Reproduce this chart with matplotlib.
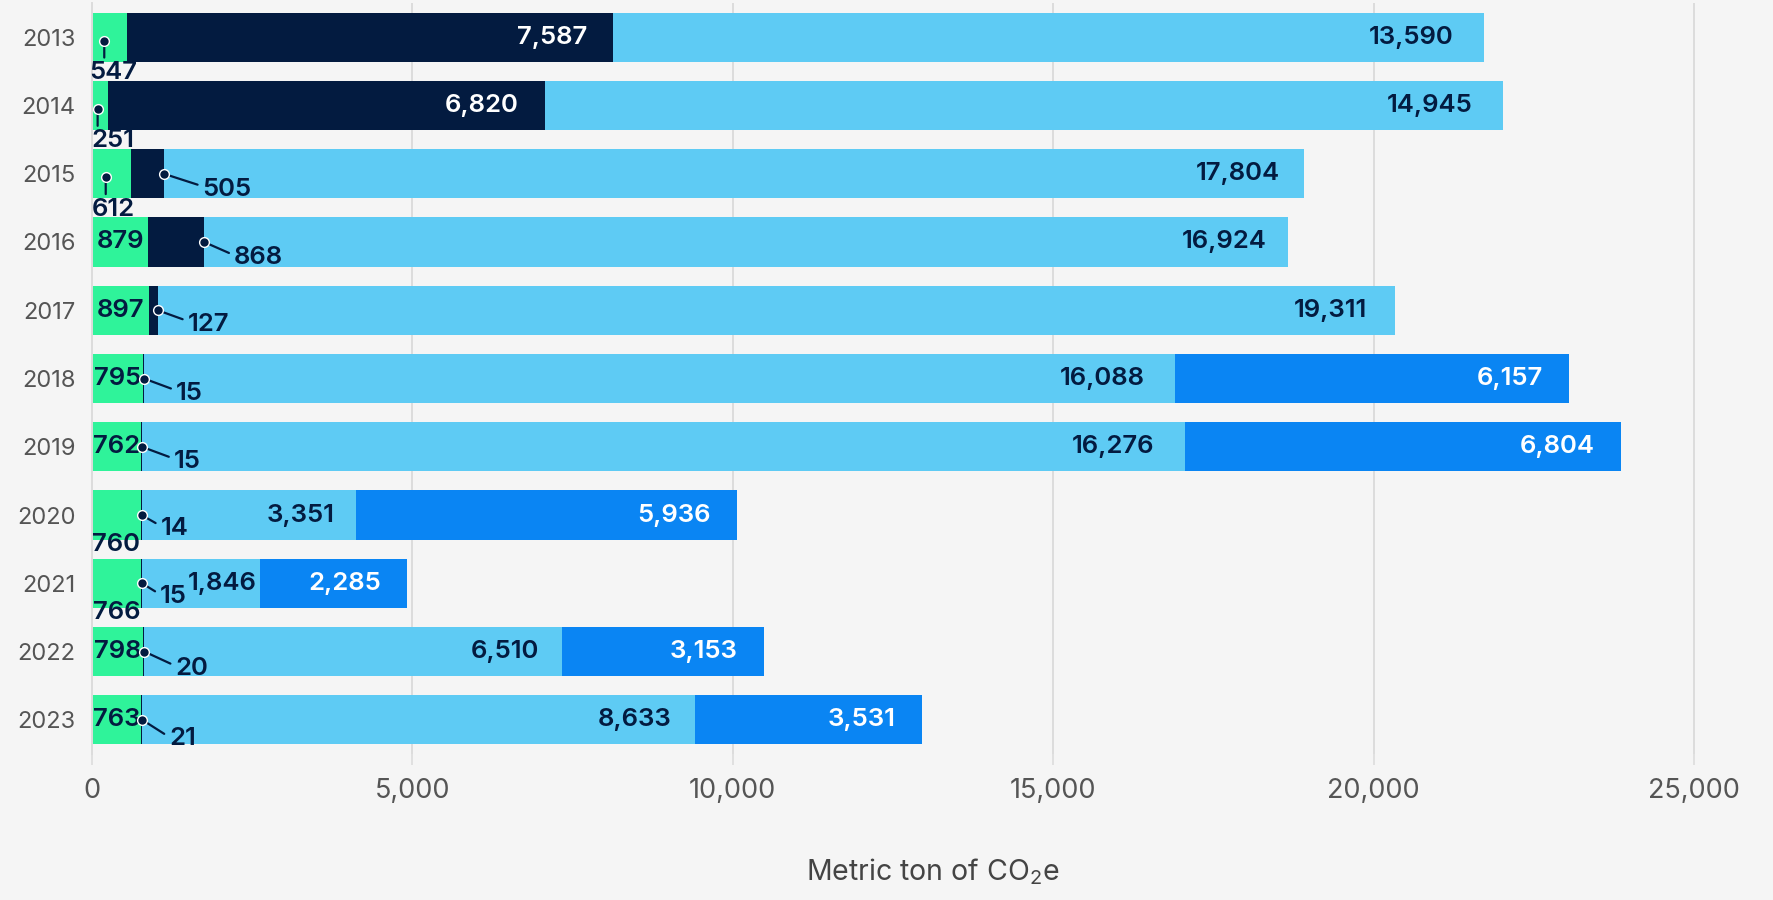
import numpy as np
import matplotlib.pyplot as plt

years = ['2013', '2014', '2015', '2016', '2017', '2018', '2019', '2020', '2021', '2022', '2023']
scope1 = [547, 251, 612, 879, 897, 795, 762, 760, 766, 798, 763]
scope2 = [7587, 6820, 505, 868, 127, 15, 15, 14, 15, 20, 21]
scope3 = [13590, 14945, 17804, 16924, 19311, 16088, 16276, 3351, 1846, 6510, 8633]
scope4 = [0, 0, 0, 0, 0, 6157, 6804, 5936, 2285, 3153, 3531]

GREEN = '#2ff39a'
NAVY = '#031b40'
LIGHT = '#5ecbf4'
BLUE = '#0a85f3'
BG = '#f5f5f5'

# how the first segment's label is placed per row
green_mode = ['below', 'below', 'below', 'in', 'in', 'in', 'in', 'edge', 'edge', 'in', 'in']
# callout line offsets (px) for thin dark segments
callout = [None, None, (34, 11), (25, 11), (25, 9), (27, 10), (27, 10), (14, 8), (13, 8), (26, 12), (22, 14)]
# right padding (px) for labels inside the light segment
light_pad = [30, 30, 24, 22, 28, 30, 30, 22, 4, 22, 24]

plt.rcParams['font.family'] = ['Inter', 'DejaVu Sans']
plt.rcParams['mathtext.default'] = 'regular'

PX = 72 / 100  # points per pixel at dpi 100

fig = plt.figure(figsize=(17.74, 9.0), dpi=100, facecolor=BG)
ax = fig.add_axes([92 / 1774, 146 / 900, 1 - 92 / 1774, 751 / 900])
ax.set_facecolor(BG)

y = np.arange(len(years))
s1 = np.array(scope1)
s2 = np.array(scope2)
s3 = np.array(scope3)
s4 = np.array(scope4)
h = 0.72
ax.barh(y, s1, height=h, color=GREEN, zorder=2)
ax.barh(y, s2, left=s1, height=h, color=NAVY, zorder=2)
ax.barh(y, s3, left=s1 + s2, height=h, color=LIGHT, zorder=2)
ax.barh(y, s4, left=s1 + s2 + s3, height=h, color=BLUE, zorder=2)

ax.set_xlim(0, 26250)
ax.set_ylim(10.5, -0.5)

lab = dict(fontsize=18.5, fontweight='semibold', zorder=5)

for i in range(len(years)):
    g, n, l, b = scope1[i], scope2[i], scope3[i], scope4[i]
    # first segment
    mode = green_mode[i]
    if mode == 'in':
        ax.text(g / 2, i, f'{g:,}', ha='center', va='center', color=NAVY, **lab)
    elif mode == 'edge':
        ax.annotate(f'{g:,}', xy=(g, i + h / 2), xytext=(-1 * PX, -5 * PX),
                    textcoords='offset points', ha='right', va='center', color=NAVY, **lab)
    else:
        dx = g * 0.35
        ax.annotate('', xy=(dx, i + h / 2), xytext=(dx, i + 0.05),
                    arrowprops=dict(arrowstyle='-', color=NAVY, lw=1.6, shrinkA=0, shrinkB=3),
                    zorder=4)
        ax.plot(dx, i + 0.05, 'o', ms=7, color=NAVY, mec='white', mew=1, zorder=6)
        ax.annotate(f'{g:,}', xy=(max(g / 2, 330), i + h / 2), xytext=(0, -11 * PX),
                    textcoords='offset points', ha='center', va='center', color=NAVY, **lab)

    # second segment
    if callout[i] is None:
        ax.annotate(f'{n:,}', xy=(g + n, i), xytext=(-26 * PX, 0), textcoords='offset points',
                    ha='right', va='center', color='white', **lab)
    else:
        ox, oy = callout[i]
        ax.annotate('', xy=(g + n, i), xytext=(ox * PX, -oy * PX), textcoords='offset points',
                    arrowprops=dict(arrowstyle='-', color=NAVY, lw=1.6, shrinkA=0, shrinkB=0),
                    zorder=4)
        ax.plot(g + n, i, 'o', ms=7, color=NAVY, mec='white', mew=1, zorder=6)
        ax.annotate(f'{n:,}', xy=(g + n, i), xytext=((ox + 5) * PX, -(oy + 5) * PX),
                    textcoords='offset points', ha='left', va='center', color=NAVY, **lab)

    # third segment
    ax.annotate(f'{l:,}', xy=(g + n + l, i), xytext=(-light_pad[i] * PX, 0),
                textcoords='offset points', ha='right', va='center', color=NAVY, **lab)

    # fourth segment
    if b > 0:
        ax.annotate(f'{b:,}', xy=(g + n + l + b, i), xytext=(-26 * PX, 0),
                    textcoords='offset points', ha='right', va='center', color='white', **lab)

ax.set_xticks([0, 5000, 10000, 15000, 20000, 25000])
ax.set_xticklabels(['0', '5,000', '10,000', '15,000', '20,000', '25,000'])
ax.set_yticks(y)
ax.set_yticklabels(years)
ax.tick_params(axis='x', length=8, width=1.2, color='#dcdcdc', pad=9, labelsize=19.5, labelcolor='#555555')
ax.tick_params(axis='y', length=0, pad=12, labelsize=17, labelcolor='#555555')
ax.grid(axis='x', color='#dcdcdc', lw=1.4, zorder=0)
ax.set_axisbelow(True)
for side in ['top', 'right', 'bottom']:
    ax.spines[side].set_visible(False)
ax.spines['left'].set_color('#dcdcdc')
ax.spines['left'].set_linewidth(1.4)

ax.set_xlabel('Metric ton of CO$_2$e', fontsize=20.5, color='#444444', labelpad=38)

fig.savefig('out.png', dpi=100, facecolor=BG)
